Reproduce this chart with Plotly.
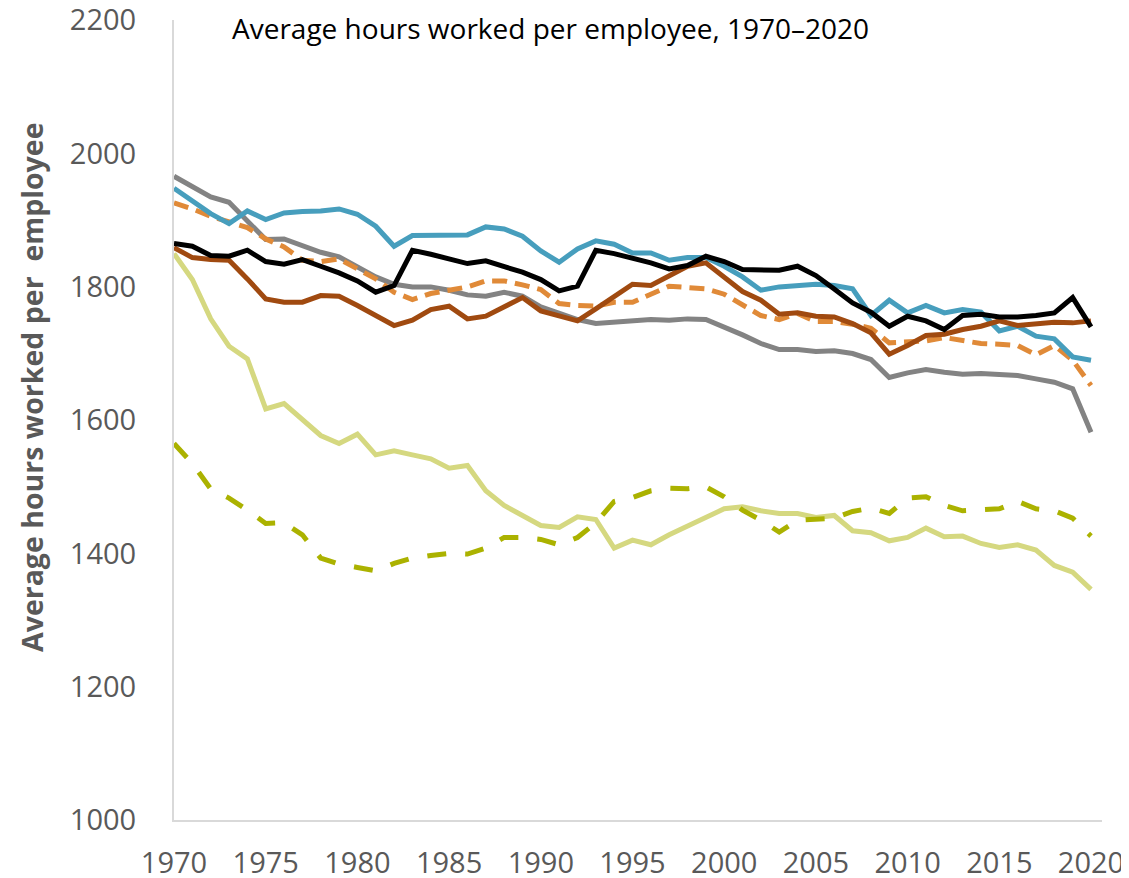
import plotly.graph_objects as go

years = list(range(1970, 2021))

blue = [1948, 1930, 1910, 1895, 1914, 1901, 1911, 1913, 1914, 1917,
        1909, 1891, 1861, 1877, 1877, 1877, 1878, 1890, 1887, 1876,
        1854, 1837, 1857, 1869, 1864, 1851, 1851, 1840, 1844, 1844,
        1831, 1815, 1795, 1800, 1802, 1804, 1802, 1797, 1757, 1780,
        1761, 1772, 1761, 1766, 1762, 1734, 1741, 1726, 1722, 1695, 1690]

gray = [1966, 1950, 1935, 1927, 1898, 1871, 1872, 1861, 1852, 1845,
        1831, 1815, 1804, 1800, 1800, 1795, 1788, 1786, 1792, 1786,
        1770, 1760, 1751, 1745, 1747, 1749, 1751, 1750, 1752, 1751,
        1740, 1728, 1715, 1706, 1706, 1703, 1704, 1700, 1691, 1664,
        1671, 1676, 1672, 1669, 1670, 1669, 1667, 1662, 1657, 1647, 1582]

orange_dash = [1926, 1917, 1906, 1897, 1889, 1872, 1860, 1840, 1838, 1842,
               1828, 1812, 1792, 1781, 1790, 1795, 1800, 1809, 1809, 1803,
               1796, 1775, 1772, 1771, 1777, 1777, 1789, 1801, 1799, 1797,
               1789, 1773, 1757, 1751, 1760, 1748, 1748, 1744, 1738, 1716,
               1717, 1719, 1724, 1720, 1715, 1714, 1712, 1698, 1712, 1690, 1652]

black = [1865, 1861, 1847, 1846, 1855, 1838, 1834, 1841, 1831, 1821,
         1809, 1792, 1802, 1855, 1849, 1842, 1835, 1839, 1831, 1822,
         1811, 1794, 1801, 1855, 1850, 1843, 1836, 1827, 1832, 1846,
         1838, 1826, 1826, 1825, 1831, 1817, 1797, 1776, 1762, 1741,
         1756, 1749, 1736, 1757, 1759, 1755, 1755, 1757, 1761, 1784, 1740]

brown = [1859, 1844, 1841, 1840, 1812, 1782, 1777, 1777, 1787, 1786,
         1772, 1756, 1742, 1750, 1766, 1771, 1752, 1756, 1771, 1784,
         1764, 1756, 1749, 1767, 1786, 1804, 1802, 1817, 1831, 1836,
         1815, 1793, 1780, 1759, 1761, 1756, 1755, 1745, 1731, 1699,
         1712, 1727, 1729, 1736, 1741, 1749, 1742, 1745, 1747, 1746, 1749]

light = [1850, 1811, 1752, 1711, 1692, 1617, 1625, 1600, 1577, 1565,
         1579, 1548, 1554, 1548, 1542, 1528, 1532, 1494, 1472, 1457,
         1442, 1439, 1455, 1451, 1408, 1420, 1413, 1428, 1441, 1456,
         1467, 1470, 1464, 1460, 1460, 1454, 1457, 1434, 1431, 1419,
         1424, 1438, 1425, 1426, 1415, 1409, 1413, 1405, 1382, 1372, 1346]

olive_dash = [1565, 1535, 1497, 1483, 1465, 1445, 1446, 1428, 1393, 1384,
              1379, 1374, 1385, 1393, 1397, 1400, 1399, 1408, 1424, 1424,
              1421, 1413, 1424, 1446, 1478, 1484, 1494, 1498, 1497, 1500,
              1485, 1465, 1450, 1432, 1450, 1452, 1453, 1463, 1468, 1460,
              1483, 1485, 1472, 1464, 1466, 1467, 1478, 1467, 1464, 1453, 1426]

x_ticks = [1970, 1975, 1980, 1985, 1990, 1995, 2000, 2005, 2010, 2015, 2020]
y_ticks = [1000, 1200, 1400, 1600, 1800, 2000, 2200]

subtitle = "Average hours worked per employee, 1970–2020"
y_title = "Average hours worked per  employee"

series = [
    (light, "#D5D880", "solid"),
    (olive_dash, "#ABB200", "19px,19px"),
    (gray, "#838383", "solid"),
    (orange_dash, "#E08A38", "15px,8px"),
    (blue, "#479EBD", "solid"),
    (brown, "#A04A10", "solid"),
    (black, "#000000", "solid"),
]

fig = go.Figure()
for vals, color, dash in series:
    fig.add_trace(go.Scatter(
        x=years, y=vals, mode="lines",
        line=dict(color=color, width=5, dash=dash),
        showlegend=False, hoverinfo="skip", cliponaxis=False,
    ))

# page body has an 8px margin, so the figure is offset by 8px
W, H = 1121, 870
ML, MT, MR = 166, 12, 27
PW = W - ML - MR          # 928
PH = 800
MB = H - MT - PH          # 58

font_family = "Open Sans"
fig.update_layout(
    width=W, height=H,
    margin=dict(l=ML, r=MR, t=MT, b=MB, autoexpand=False),
    plot_bgcolor="white", paper_bgcolor="white",
    font=dict(family=font_family, color="#595959"),
    xaxis=dict(
        range=[1970, 2020.6], tickvals=x_ticks, ticktext=[str(v) for v in x_ticks],
        showgrid=False, zeroline=False, showline=True, linecolor="#D9D9D9",
        linewidth=2, ticks="", tickfont=dict(size=29, color="#595959"),
        ticklabelstandoff=16, automargin=False, ticklabeloverflow="allow",
    ),
    yaxis=dict(
        range=[1000, 2200.5], tickvals=y_ticks, ticktext=[str(v) for v in y_ticks],
        showgrid=False, zeroline=False, showline=True, linecolor="#D9D9D9",
        linewidth=2, ticks="", tickfont=dict(size=29, color="#595959"),
        ticklabelstandoff=30, automargin=False, ticklabeloverflow="allow",
    ),
    annotations=[
        dict(text=subtitle, xref="paper", yref="paper", x=(230 - 174) / PW,
             y=1 + (20 - 28) / PH, xanchor="left", yanchor="middle",
             showarrow=False, font=dict(size=28, color="#000000", family=font_family)),
        dict(text="<b>" + y_title + "</b>", xref="paper", yref="paper",
             x=(32 - 174) / PW, y=(820 - 388) / PH, xanchor="center", yanchor="middle",
             textangle=-90, showarrow=False,
             font=dict(size=28.5, color="#595959", family=font_family)),
    ],
)

fig.write_html("out.html")
